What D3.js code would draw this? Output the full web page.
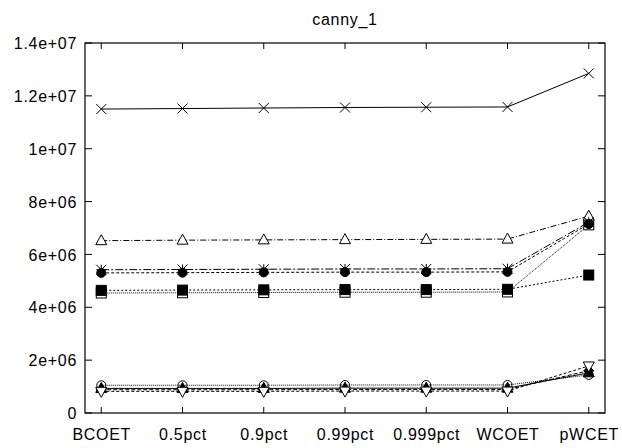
<!DOCTYPE html>
<html><head><meta charset="utf-8">
<script src="https://cdn.jsdelivr.net/npm/d3@7"></script>
<style>body{margin:0;background:#fff}svg{display:block}text{font-family:"Liberation Sans",Arial,sans-serif;fill:#000}</style>
</head><body><svg id="c" width="622" height="448"></svg>
<script>
const categories = ["BCOET","0.5pct","0.9pct","0.99pct","0.999pct","WCOET","pWCET"];
const yTicks = [0,2e6,4e6,6e6,8e6,1e7,1.2e7,1.4e7];
const yTickLabels = ["0","2e+06","4e+06","6e+06","8e+06","1e+07","1.2e+07","1.4e+07"];
const title = "canny_1";

const sCross    = [11.50e6,11.52e6,11.54e6,11.56e6,11.57e6,11.58e6,12.85e6];
const sTriangle = [6.52e6,6.54e6,6.55e6,6.56e6,6.57e6,6.58e6,7.45e6];
const sStar     = [5.42e6,5.43e6,5.44e6,5.45e6,5.45e6,5.46e6,7.22e6];
const sDot      = [5.30e6,5.31e6,5.32e6,5.33e6,5.33e6,5.34e6,7.15e6];
const sOpenSq   = [4.54e6,4.55e6,4.56e6,4.57e6,4.57e6,4.58e6,7.12e6];
const sFillSq   = [4.64e6,4.65e6,4.66e6,4.67e6,4.67e6,4.68e6,5.22e6];
const sOpenCirc = [1.05e6,1.05e6,1.05e6,1.06e6,1.06e6,1.06e6,1.44e6];
const sFillTri  = [0.93e6,0.93e6,0.93e6,0.94e6,0.94e6,0.94e6,1.52e6];
const sDiamond  = [0.88e6,0.88e6,0.88e6,0.89e6,0.89e6,0.89e6,1.60e6];
const sInvTri   = [0.82e6,0.82e6,0.82e6,0.83e6,0.83e6,0.83e6,1.78e6];

const series = [
  {v:sOpenSq, m:"osq", dash:"1,1"},
  {v:sCross, m:"cross", dash:null},
  {v:sTriangle, m:"tri", dash:"6,2,1,2"},
  {v:sStar, m:"star", dash:"8,2,2,2"},
  {v:sDot, m:"fcirc", dash:"3,2"},
  {v:sFillSq, m:"fsq", dash:"2,2"},
  {v:sOpenCirc, m:"ocirc", dash:"1,1"},
  {v:sFillTri, m:"ftri", dash:null},
  {v:sDiamond, m:"fdiam", dash:"4,2"},
  {v:sInvTri, m:"itri", dash:"3,2"}
];

const svg = d3.select("#c");
const L=85, R=605, T=43, B=413;
const x = d3.scaleLinear().domain([-0.2, 6.2]).range([L, R]);
const y = d3.scaleLinear().domain([0, 1.4e7]).range([B, T]);
const FS = 16, LS = "0.7px";

svg.append("text").attr("x",(L+R)/2).attr("y",25).attr("text-anchor","middle").attr("font-size",FS).attr("letter-spacing",LS).text(title);

const g = svg.append("g");
g.append("rect").attr("x",L).attr("y",T).attr("width",R-L).attr("height",B-T).attr("fill","none").attr("stroke","#000").attr("stroke-width",1.2);

const ya = d3.axisLeft(y).tickValues(yTicks).tickSize(0).tickPadding(8).tickFormat((d,i)=>yTickLabels[i]);
const yg = svg.append("g").attr("transform",`translate(${L},0)`).call(ya);
yg.select(".domain").remove();
yg.selectAll("text").attr("font-size",FS).attr("letter-spacing",LS).attr("font-family","Liberation Sans, Arial, sans-serif").attr("dy","0.35em");
const xa = d3.axisBottom(x).tickValues(d3.range(categories.length)).tickSize(0).tickPadding(16).tickFormat((d,i)=>categories[i]);
const xg = svg.append("g").attr("transform",`translate(0,${B})`).call(xa);
xg.select(".domain").remove();
xg.selectAll("text").attr("font-size",FS).attr("letter-spacing",LS).attr("font-family","Liberation Sans, Arial, sans-serif");

yTicks.forEach(t=>{
  g.append("line").attr("x1",L).attr("x2",L+7).attr("y1",y(t)).attr("y2",y(t)).attr("stroke","#000");
  g.append("line").attr("x1",R).attr("x2",R-7).attr("y1",y(t)).attr("y2",y(t)).attr("stroke","#000");
});
categories.forEach((c,i)=>{
  g.append("line").attr("x1",x(i)).attr("x2",x(i)).attr("y1",B).attr("y2",B-6).attr("stroke","#000");
  g.append("line").attr("x1",x(i)).attr("x2",x(i)).attr("y1",T).attr("y2",T+6).attr("stroke","#000");
});

const line = d3.line().x((d,i)=>x(i)).y(d=>y(d));
series.forEach(s=>{
  g.append("path").attr("d",line(s.v)).attr("fill","none").attr("stroke","#000").attr("stroke-width",1)
    .attr("stroke-dasharray",s.dash);
});

function marker(sel, m, cx, cy){
  const r=5;
  if(m==="cross"){
    sel.append("path").attr("d",`M${cx-r},${cy-r}L${cx+r},${cy+r}M${cx-r},${cy+r}L${cx+r},${cy-r}`).attr("stroke","#000").attr("fill","none");
  } else if(m==="star"){
    sel.append("path").attr("d",`M${cx-r},${cy-r}L${cx+r},${cy+r}M${cx-r},${cy+r}L${cx+r},${cy-r}M${cx},${cy-r}L${cx},${cy+r}M${cx-r},${cy}L${cx+r},${cy}`).attr("stroke","#000").attr("fill","none");
  } else if(m==="tri" || m==="ftri"){
    sel.append("path").attr("d",`M${cx},${cy-r-1}L${cx+r+0.5},${cy+r-1}L${cx-r-0.5},${cy+r-1}Z`).attr("stroke","#000").attr("fill",m==="ftri"?"#000":"#fff");
  } else if(m==="itri"){
    sel.append("path").attr("d",`M${cx},${cy+r+1}L${cx+r+0.5},${cy-r+1}L${cx-r-0.5},${cy-r+1}Z`).attr("stroke","#000").attr("fill","#fff");
  } else if(m==="fcirc" || m==="ocirc"){
    sel.append("circle").attr("cx",cx).attr("cy",cy).attr("r",r-0.5).attr("stroke","#000").attr("fill",m==="fcirc"?"#000":"none");
  } else if(m==="osq" || m==="fsq"){
    sel.append("rect").attr("x",cx-r).attr("y",cy-r).attr("width",2*r).attr("height",2*r).attr("stroke","#000").attr("fill",m==="fsq"?"#000":"#fff");
  } else if(m==="fdiam"){
    sel.append("path").attr("d",`M${cx},${cy-r}L${cx+r},${cy}L${cx},${cy+r}L${cx-r},${cy}Z`).attr("stroke","#000").attr("fill","#000");
  }
}
series.forEach(s=>{
  const mg = g.append("g");
  s.v.forEach((d,i)=>marker(mg, s.m, x(i), y(d)));
});
</script></body></html>
